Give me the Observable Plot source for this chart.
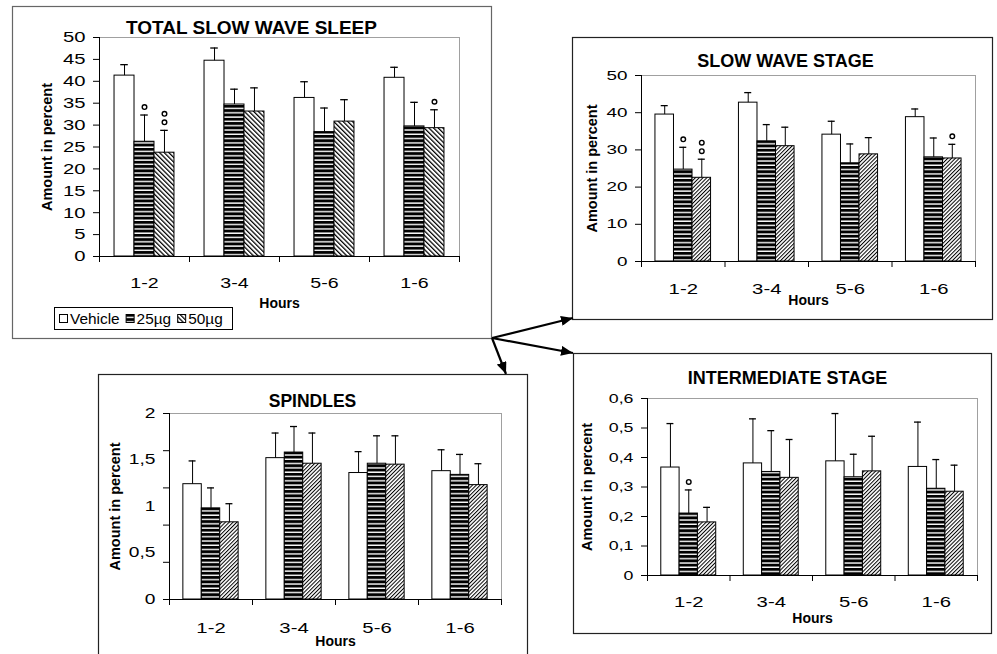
<!DOCTYPE html>
<html><head><meta charset="utf-8">
<script src="https://cdn.jsdelivr.net/npm/d3@7"></script>
<script src="https://cdn.jsdelivr.net/npm/@observablehq/plot@0.6"></script>
<style>
html,body{margin:0;padding:0;background:#fff;}
#page{position:relative;width:997px;height:654px;overflow:hidden;background:#fff;font-family:"Liberation Sans",Arial,sans-serif;}
#page svg.panel{position:absolute;}
#overlay{position:absolute;left:0;top:0;pointer-events:none;}
</style></head><body>
<div id="page"></div>
<script>
// ---------- data ----------
const categories = ["1-2", "3-4", "5-6", "1-6"];
const series = ["Vehicle", "25µg", "50µg"];

// TOTAL SLOW WAVE SLEEP (mean, SEM)
const totalVehicle = [41.3, 44.7, 36.2, 40.8];
const total25 = [26.2, 34.7, 28.4, 29.7];
const total50 = [23.7, 33.1, 30.8, 29.3];
const totalVehicleSem = [2.5, 2.9, 3.7, 2.4];
const total25Sem = [6.1, 3.5, 5.5, 5.5];
const total50Sem = [5.1, 5.4, 5.0, 4.2];
const totalTicks = [0, 5, 10, 15, 20, 25, 30, 35, 40, 45, 50];

// SLOW WAVE STAGE
const swsVehicle = [39.5, 42.7, 34.1, 38.8];
const sws25 = [24.7, 32.3, 26.4, 28.0];
const sws50 = [22.5, 31.0, 28.8, 27.7];
const swsVehicleSem = [2.4, 2.7, 3.6, 2.2];
const sws25Sem = [6.0, 4.5, 5.2, 5.2];
const sws50Sem = [5.0, 5.1, 4.5, 3.8];
const swsTicks = [0, 10, 20, 30, 40, 50];

// SPINDLES
const spVehicle = [1.24, 1.52, 1.36, 1.38];
const sp25 = [0.98, 1.58, 1.46, 1.34];
const sp50 = [0.83, 1.46, 1.45, 1.23];
const spVehicleSem = [0.25, 0.27, 0.23, 0.23];
const sp25Sem = [0.22, 0.28, 0.30, 0.22];
const sp50Sem = [0.20, 0.33, 0.31, 0.23];
const spTickMarks = [0, 0.4, 0.8, 1.2, 1.6, 2];
const spTickLabels = [0, 0.5, 1, 1.5, 2];

// INTERMEDIATE STAGE
const imVehicle = [0.366, 0.380, 0.387, 0.368];
const im25 = [0.210, 0.351, 0.333, 0.294];
const im50 = [0.180, 0.331, 0.353, 0.284];
const imVehicleSem = [0.149, 0.151, 0.162, 0.152];
const im25Sem = [0.080, 0.140, 0.078, 0.099];
const im50Sem = [0.051, 0.130, 0.119, 0.090];
const imTicks = [0, 0.1, 0.2, 0.3, 0.4, 0.5, 0.6];

// significance markers (number of open circles)
const totalSig = [{category: "1-2", series: "25µg", n: 1}, {category: "1-2", series: "50µg", n: 2}, {category: "1-6", series: "50µg", n: 1}];
const swsSig = [{category: "1-2", series: "25µg", n: 1}, {category: "1-2", series: "50µg", n: 2}, {category: "1-6", series: "50µg", n: 1}];
const spSig = [];
const imSig = [{category: "1-2", series: "25µg", n: 1}];

// ---------- rendering ----------
const FONT = '"Liberation Sans", Arial, Helvetica, sans-serif';
const page = document.getElementById("page");

// pattern definitions
const defs = d3.select(page).append("svg").attr("width", 0).attr("height", 0).style("position", "absolute").append("defs");
function stripe(id, w, h, fg, bg, lineY, lineH) {
  const p = defs.append("pattern").attr("id", id).attr("patternUnits", "userSpaceOnUse").attr("width", w).attr("height", h);
  p.append("rect").attr("width", w).attr("height", h).attr("fill", bg);
  p.append("rect").attr("y", lineY).attr("width", w).attr("height", lineH).attr("fill", fg);
}
stripe("hstripe", 8, 4.3, "white", "black", 2.9, 1.4);
function hatch(id, period, lw, angle) {
  const p = defs.append("pattern").attr("id", id).attr("patternUnits", "userSpaceOnUse")
    .attr("width", period).attr("height", 10).attr("patternTransform", `rotate(${angle})`);
  p.append("rect").attr("width", period).attr("height", 10).attr("fill", "white");
  p.append("rect").attr("width", lw).attr("height", 10).attr("fill", "black");
}
hatch("hatchBack", 3.3, 1.25, -45);
hatch("hatchFwd", 2.7, 1.0, 45);

const fmt = d => String(+d.toFixed(3)).replace(".", ",");

function stretchText(svg, selector, s) {
  svg.querySelectorAll(selector).forEach(t => {
    const tr = t.getAttribute("transform") || "";
    t.setAttribute("transform", `${tr} scale(${s},1)`);
  });
}

function buildPanel(cfg) {
  const rows = [];
  cfg.means.forEach((arr, j) => arr.forEach((v, i) => rows.push({
    category: categories[i], series: series[j], i, j, value: v, top: v + cfg.sems[j][i]
  })));
  const sig = cfg.sig.map(s => ({...rows.find(r => r.category === s.category && r.series === s.series), n: s.n}));
  const bw = 0.222, pad = (1 - 3 * bw) / 2, cap = 0.042;
  const X1 = d => d.i + pad + d.j * bw;
  const X2 = d => X1(d) + bw;
  const XC = d => X1(d) + bw / 2;
  const fills = ["white", "url(#hstripe)", cfg.hatch];
  const m = cfg.margins;
  const svg = Plot.plot({
    width: cfg.box[2], height: cfg.box[3],
    marginLeft: m[0], marginRight: m[1], marginTop: m[2], marginBottom: m[3],
    x: {domain: [0, categories.length]},
    y: {domain: cfg.yDomain},
    style: {fontFamily: FONT, color: "black", background: "transparent", overflow: "visible"},
    marks: [
      Plot.frame({stroke: "#a0a0a0", strokeWidth: 1}),
      ...series.map((s, j) => Plot.rect(rows.filter(r => r.j === j), {
        x1: X1, x2: X2, y1: 0, y2: "value", fill: fills[j], stroke: "black", strokeWidth: 1
      })),
      Plot.ruleX(rows, {x: XC, y1: "value", y2: "top", stroke: "black", strokeWidth: 1}),
      Plot.ruleY(rows, {x1: d => XC(d) - cap, x2: d => XC(d) + cap, y: "top", stroke: "black", strokeWidth: 1.3}),
      ...[0, 1].map(k => Plot.dot(sig.filter(s => s.n > k), {
        x: XC, y: "top", dy: -8 - 8.5 * k, r: 2.3, stroke: "black", strokeWidth: 1.4, fill: "white"
      })),
      Plot.ruleY([0], {stroke: "black", strokeWidth: 1}),
      Plot.ruleX([0], {stroke: "black", strokeWidth: 1}),
      Plot.axisY({ticks: cfg.tickMarks, tickSize: 6, tickFormat: () => "", label: null}),
      Plot.axisY({ticks: cfg.tickLabels, tickSize: 0, tickPadding: 14, tickFormat: fmt, fontSize: cfg.tickFont, label: null}),
      Plot.axisX({ticks: d3.range(categories.length + 1), tickSize: 6, tickFormat: () => "", label: null}),
      Plot.axisX({ticks: categories.map((c, i) => i + 0.5), tickSize: 0, tickPadding: cfg.catPad,
        tickFormat: d => categories[Math.floor(d)], fontSize: cfg.catFont, label: null}),
      Plot.text([cfg.title], {frameAnchor: "top", dx: cfg.titleDx, dy: cfg.titleDy, lineAnchor: "middle",
        fontWeight: "bold", fontSize: cfg.titleFont}),
      Plot.text(["Amount in percent"], {frameAnchor: "left", dx: cfg.ylabDx, rotate: -90, textAnchor: "middle",
        lineAnchor: "middle", fontWeight: "bold", fontSize: 14.5}),
      Plot.text(["Hours"], {frameAnchor: "bottom", dy: cfg.hoursDy, lineAnchor: "middle", fontWeight: "bold", fontSize: 14})
    ]
  });
  svg.classList.add("panel");
  svg.style.left = cfg.box[0] + "px";
  svg.style.top = cfg.box[1] + "px";
  page.appendChild(svg);
  stretchText(svg, 'g[aria-label="y-axis tick label"] text', cfg.tickScale);
  stretchText(svg, 'g[aria-label="x-axis tick label"] text', cfg.catScale);
  return svg;
}

const panels = [
  {title: "TOTAL SLOW WAVE SLEEP", box: [12, 6, 479, 332], margins: [87, 32, 31, 82],
   means: [totalVehicle, total25, total50], sems: [totalVehicleSem, total25Sem, total50Sem], sig: totalSig,
   yDomain: [0, 50], tickMarks: totalTicks, tickLabels: totalTicks, hatch: "url(#hatchBack)",
   tickFont: 15, tickScale: 1.35, catFont: 14, catScale: 1.4, catPad: 22, titleFont: 19, titleDx: -28, titleDy: -10,
   ylabDx: -52, hoursDy: 47},
  {title: "SLOW WAVE STAGE", box: [572, 37, 420, 282], margins: [69, 17, 38, 58],
   means: [swsVehicle, sws25, sws50], sems: [swsVehicleSem, sws25Sem, sws50Sem], sig: swsSig,
   yDomain: [0, 50], tickMarks: swsTicks, tickLabels: swsTicks, hatch: "url(#hatchFwd)",
   tickFont: 13, tickScale: 1.45, catFont: 14.5, catScale: 1.4, catPad: 22, titleFont: 18, titleDx: -23, titleDy: -14,
   ylabDx: -49, hoursDy: 39},
  {title: "SPINDLES", box: [98, 374, 429, 290], margins: [71, 26, 39, 65],
   means: [spVehicle, sp25, sp50], sems: [spVehicleSem, sp25Sem, sp50Sem], sig: spSig,
   yDomain: [0, 2], tickMarks: spTickMarks, tickLabels: spTickLabels, hatch: "url(#hatchFwd)",
   tickFont: 14, tickScale: 1.37, catFont: 14.5, catScale: 1.4, catPad: 23, titleFont: 17.5, titleDx: -23, titleDy: -12,
   ylabDx: -54, hoursDy: 42},
  {title: "INTERMEDIATE STAGE", box: [573, 353, 418, 280], margins: [74, 14, 45, 58],
   means: [imVehicle, im25, im50], sems: [imVehicleSem, im25Sem, im50Sem], sig: imSig,
   yDomain: [0, 0.6], tickMarks: imTicks, tickLabels: imTicks, hatch: "url(#hatchFwd)",
   tickFont: 12.5, tickScale: 1.42, catFont: 14.5, catScale: 1.4, catPad: 21, titleFont: 18, titleDx: -25, titleDy: -20,
   ylabDx: -60, hoursDy: 43}
];
panels.forEach(buildPanel);

// ---------- overlay: panel boxes, arrows, legend ----------
const ov = d3.select(page).append("svg").attr("id", "overlay").attr("width", 997).attr("height", 654);
const odefs = ov.append("defs");
odefs.append("marker").attr("id", "ah").attr("viewBox", "0 0 12 10").attr("refX", 12).attr("refY", 5)
  .attr("markerWidth", 12).attr("markerHeight", 10).attr("markerUnits", "userSpaceOnUse").attr("orient", "auto")
  .append("path").attr("d", "M0,0L12,5L0,10z").attr("fill", "black");
panels.forEach((p, k) => {
  ov.append("rect").attr("x", p.box[0] + 0.5).attr("y", p.box[1] + 0.5)
    .attr("width", p.box[2]).attr("height", p.box[3])
    .attr("fill", "none").attr("stroke", k === 0 ? "#666" : "#222").attr("stroke-width", 1.2);
});
// arrows from the corner of the first panel to the three others
const origin = [492, 338];
const targets = [[573, 318], [573, 353], [506, 374]];
targets.forEach(t => {
  ov.append("line").attr("x1", origin[0]).attr("y1", origin[1]).attr("x2", t[0]).attr("y2", t[1])
    .attr("stroke", "black").attr("stroke-width", 2.2).attr("marker-end", "url(#ah)");
});
// legend for the first panel
const lg = ov.append("g").attr("font-family", FONT).attr("font-size", 14);
lg.append("rect").attr("x", 54.5).attr("y", 307.5).attr("width", 178).attr("height", 22)
  .attr("fill", "white").attr("stroke", "black").attr("stroke-width", 1);
const legendFills = ["white", "url(#hstripe)", "url(#hatchBack)"];
let lx = 59;
series.forEach((s, j) => {
  lg.append("rect").attr("x", lx + 0.5).attr("y", 314.5).attr("width", 8).attr("height", 8)
    .attr("fill", legendFills[j]).attr("stroke", "black").attr("stroke-width", 1);
  const t = lg.append("text").attr("x", 0).attr("y", 0)
    .attr("transform", `translate(${lx + 11},323.5) scale(1.1,1)`).text(s);
  const w = t.node().getComputedTextLength() * 1.1;
  lx += 11 + w + 6;
});
</script>
</body></html>
